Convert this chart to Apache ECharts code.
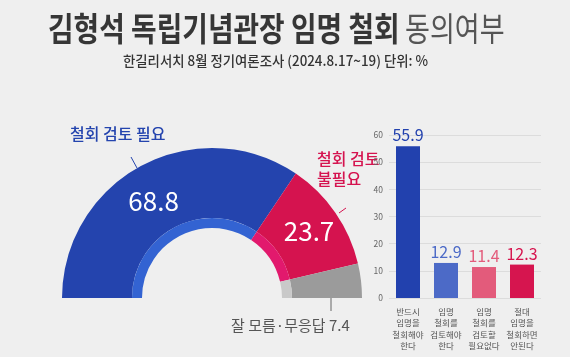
<!DOCTYPE html>
<html><head><meta charset="utf-8">
<script src="https://cdn.jsdelivr.net/npm/echarts@6/dist/echarts.min.js"></script>
<style>html,body{margin:0;padding:0;background:#efefef}#c{width:570px;height:357px}</style>
</head><body><div id="c"></div>
<script>
const donutNames = ['철회 검토 필요', '철회 검토 불필요', '잘 모름·무응답'];
const donutValues = [68.8, 23.7, 7.4];
const barCategories = ['반드시\n임명을\n철회해야\n한다', '임명\n철회를\n검토해야\n한다', '임명\n철회를\n검토할\n필요없다', '절대\n임명을\n철회하면\n안된다'];
const barValues = [55.9, 12.9, 11.4, 12.3];
const yTicks = [0, 10, 20, 30, 40, 50, 60];

const outerColors = ['#2444ae', '#d5134f', '#9b9b9b'];
const innerColors = ['#3363d2', '#e2196d', '#c9c9c9'];
const barColors = ['#2241ae', '#4c6ac7', '#e35b7b', '#d6154f'];
const FONT = '"Noto Sans CJK KR", "Noto Sans", sans-serif';

const total = donutValues.reduce((a, b) => a + b, 0);
function halfData(colors, withLabel) {
  const d = donutValues.map((v, i) => ({
    name: donutNames[i], value: v,
    itemStyle: { color: colors[i] },
    label: { show: withLabel && i < 2, offset: i === 0 ? [-3, 7] : [0, 0] }
  }));
  d.push({ name: 'blank', value: total, itemStyle: { color: 'rgba(0,0,0,0)' }, label: { show: false } });
  return d;
}

const chart = echarts.init(document.getElementById('c'));
chart.setOption({
  backgroundColor: '#efefef',
  animation: false,
  textStyle: { fontFamily: FONT },
  grid: { left: 389, right: 29, top: 135, bottom: 59 },
  xAxis: {
    type: 'category', data: barCategories,
    axisLine: { show: false }, axisTick: { show: false },
    axisLabel: { fontSize: 8.5, color: '#555', lineHeight: 11.5, margin: 8, interval: 0 }
  },
  yAxis: {
    type: 'value', min: 0, max: 60, interval: 10,
    axisLine: { show: false }, axisTick: { show: false },
    axisLabel: { fontSize: 8.5, color: '#666', margin: 6, formatter: v => yTicks.includes(v) ? String(v) : '' },
    splitLine: { lineStyle: { color: '#dcdcdc', width: 1 } }
  },
  series: [
    {
      type: 'pie', silent: true, radius: [80, 150], center: [212, 298],
      startAngle: 180, clockwise: true, avoidLabelOverlap: false,
      label: { position: 'inside', formatter: p => p.value.toFixed(1), color: '#fff', fontSize: 26, fontFamily: FONT },
      labelLine: { show: false },
      data: halfData(outerColors, true)
    },
    {
      type: 'pie', silent: true, radius: [70, 80], center: [212, 298],
      startAngle: 180, clockwise: true,
      label: { show: false }, labelLine: { show: false },
      data: halfData(innerColors, false)
    },
    {
      type: 'bar', barWidth: 24, silent: true,
      data: barValues.map((v, i) => ({ value: v, itemStyle: { color: barColors[i] }, label: { color: barColors[i] } })),
      label: { show: true, position: 'top', distance: 3, fontSize: 16, formatter: p => p.value.toFixed(1), fontFamily: FONT }
    }
  ],
  graphic: [
    { type: 'text', x: 48, y: 12, scaleX: 0.843, style: { text: '김형석 독립기념관장 임명 철회', font: 'bold 33px ' + FONT, fill: '#363636' } },
    { type: 'text', x: 405, y: 12, scaleX: 0.82, style: { text: '동의여부', font: '33px ' + FONT, fill: '#555' } },
    { type: 'text', x: 123, y: 54, scaleX: 0.955, style: { text: '한길리서치 8월 정기여론조사 (2024.8.17~19) 단위: %', font: '500 14px ' + FONT, fill: '#333' } },
    { type: 'text', x: 70, y: 126, style: { text: '철회 검토 필요', font: '500 16px ' + FONT, fill: '#2444ae' } },
    { type: 'line', shape: { x1: 131, y1: 157, x2: 137, y2: 168 }, style: { stroke: '#2444ae', lineWidth: 1 } },
    { type: 'text', x: 317, y: 149, style: { text: '철회 검토\n불필요', font: '500 16px ' + FONT, fill: '#d5134f', lineHeight: 20 } },
    { type: 'line', shape: { x1: 339, y1: 213, x2: 346, y2: 208 }, style: { stroke: '#d5134f', lineWidth: 1 } },
    { type: 'line', shape: { x1: 331, y1: 298, x2: 331, y2: 311 }, style: { stroke: '#666', lineWidth: 1 } },
    { type: 'text', x: 231, y: 318, style: { text: '잘 모름·무응답 7.4', font: '15px ' + FONT, fill: '#555' } }
  ]
});
</script></body></html>
